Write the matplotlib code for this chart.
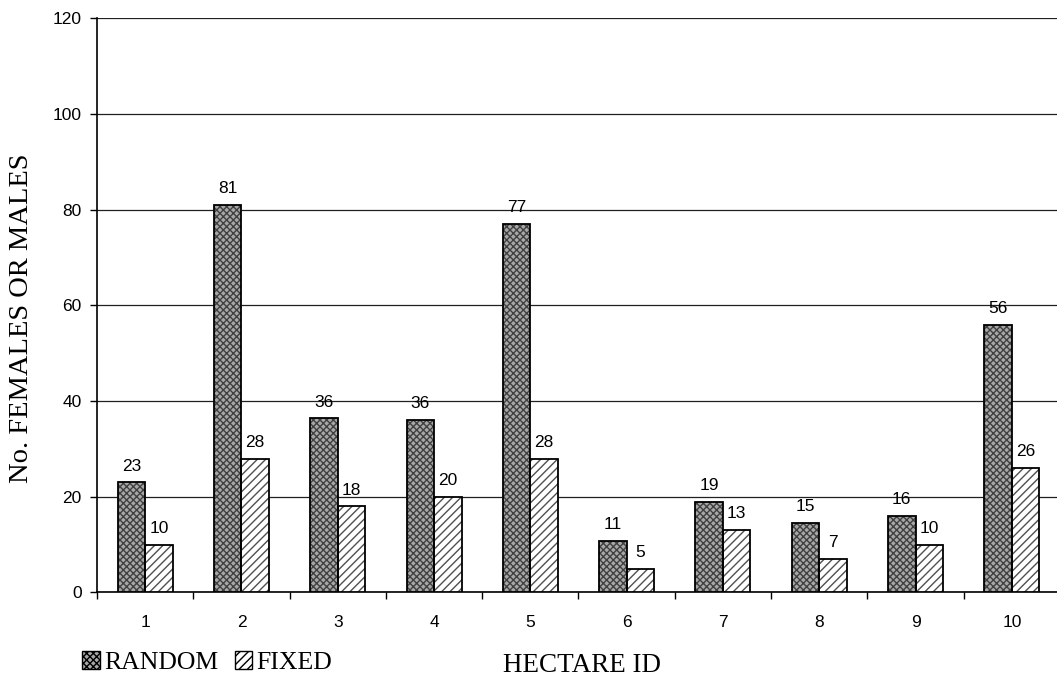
import matplotlib
matplotlib.use("Agg")
import matplotlib.pyplot as plt
import numpy as np

hectares = ["1", "2", "3", "4", "5", "6", "7", "8", "9", "10"]
random_vals = [23, 81, 36.4, 36, 77, 10.8, 19, 14.6, 16, 56]
fixed_vals = [10, 28, 18, 20, 28, 5, 13, 7, 10, 26]
yticks = [0, 20, 40, 60, 80, 100, 120]

plt.rcParams['font.family'] = ['Liberation Sans', 'DejaVu Sans']
plt.rcParams['hatch.linewidth'] = 1.0

fig = plt.figure(figsize=(10.57, 6.8), dpi=100)
ax = fig.add_axes([0.0918, 0.1287, 0.911, 0.8444])

x = np.arange(len(hectares))
w = 0.285

# patterned fills first (hatch colour follows edge colour), then black outlines
b1 = ax.bar(x - w / 2, random_vals, w, color='#a8a8a8', hatch='xxxxx',
            edgecolor='#404040', linewidth=0, zorder=3, label='RANDOM')
b2 = ax.bar(x + w / 2, fixed_vals, w, color='white', hatch='////',
            edgecolor='#505050', linewidth=0, zorder=3, label='FIXED')
ax.bar(x - w / 2, random_vals, w, fill=False, edgecolor='black',
       linewidth=1.3, zorder=4)
ax.bar(x + w / 2, fixed_vals, w, fill=False, edgecolor='black',
       linewidth=1.3, zorder=4)

for xi, v in zip(x - w / 2, random_vals):
    ax.annotate(f"{v:.0f}", (xi, v), xytext=(0, 8.5), textcoords='offset points',
                ha='center', va='baseline', fontsize=12.5)
for xi, v in zip(x + w / 2, fixed_vals):
    ax.annotate(f"{v:.0f}", (xi, v), xytext=(0, 8.5), textcoords='offset points',
                ha='center', va='baseline', fontsize=12.5)

ax.set_xlim(-0.5, len(hectares) - 0.5)
ax.set_ylim(0, 120)
ax.set_yticks(yticks)
ax.set_xticks(x)
ax.set_xticklabels(hectares)
ax.set_xticks(np.arange(len(hectares) + 1) - 0.5, minor=True)
ax.tick_params(axis='x', which='major', length=0, pad=16, labelsize=12.5)
ax.tick_params(axis='x', which='minor', length=5, width=1, direction='out')
ax.tick_params(axis='y', length=5, width=1, direction='out', pad=6, labelsize=12.5)

ax.yaxis.grid(True, color='#202020', linewidth=0.9)
ax.set_axisbelow(True)
ax.spines['top'].set_visible(False)
ax.spines['right'].set_visible(False)
ax.spines['left'].set_linewidth(1.2)
ax.spines['bottom'].set_linewidth(1.2)

fig.text(0.0199, 0.532, "No. FEMALES OR MALES", rotation=90, ha='center', va='center',
         fontsize=20.5, family=['Liberation Serif', 'DejaVu Serif'])
fig.text(0.5506, 0.0118, "HECTARE ID", ha='center', va='baseline',
         fontsize=19.5, family=['Liberation Serif', 'DejaVu Serif'])

leg = fig.legend([b1, b2], ["RANDOM", "FIXED"], loc='center left',
                 bbox_to_anchor=(0.078, 0.026), ncol=2, frameon=False,
                 handlelength=0.68, handleheight=0.68, handletextpad=0.18,
                 columnspacing=0.62, borderpad=0, borderaxespad=0,
                 prop={'family': ['Liberation Serif', 'DejaVu Serif'], 'size': 18.5})
for p in leg.get_patches():
    p.set_edgecolor('black')
    p.set_linewidth(1.0)

fig.savefig("out.png", dpi=100)
